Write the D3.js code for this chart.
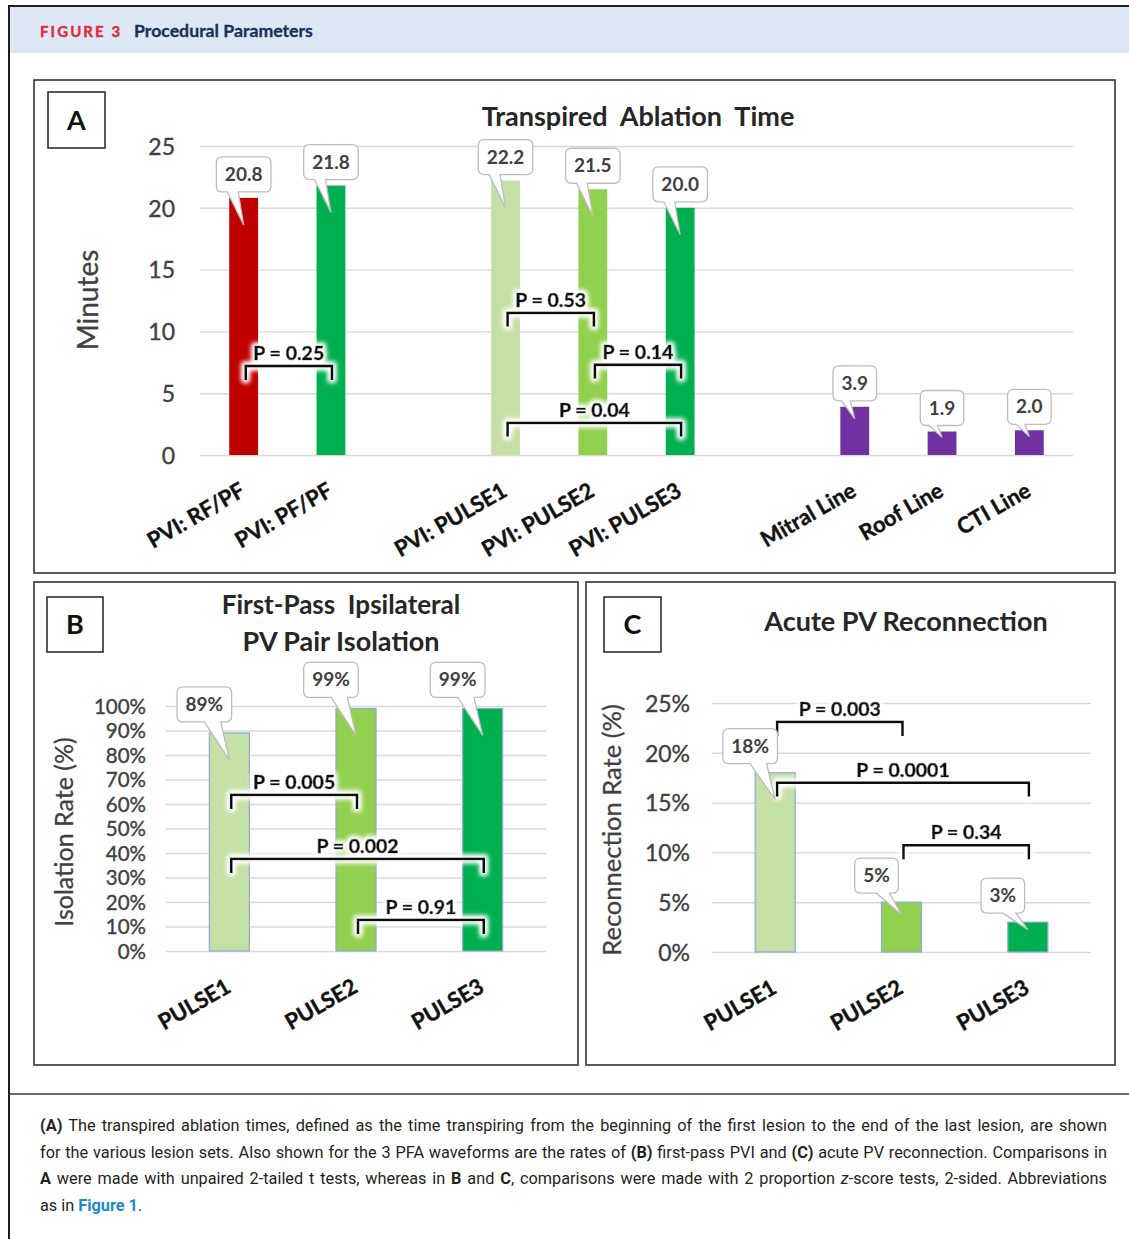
<!DOCTYPE html>
<html>
<head>
<meta charset="utf-8">
<script src="https://cdn.jsdelivr.net/npm/d3@7"></script>
<style>
  body { margin: 0; background: #fff; }
  svg { display: block; }
</style>
</head>
<body>
<svg id="fig" width="1129" height="1239"></svg>
<script>
// ---------- data ----------
const timeGroups = [
  ["PVI: RF/PF", "PVI: PF/PF"],
  ["PVI: PULSE1", "PVI: PULSE2", "PVI: PULSE3"],
  ["Mitral Line", "Roof Line", "CTI Line"]
];
const timeMinutes = [20.8, 21.8, 22.2, 21.5, 20.0, 3.9, 1.9, 2.0];
const timeTicks = [0, 5, 10, 15, 20, 25];
// [from, to, label, bracket level in minutes]
const timeComparisons = [
  ["PVI: RF/PF", "PVI: PF/PF", "P = 0.25", 7.2],
  ["PVI: PULSE1", "PVI: PULSE2", "P = 0.53", 11.5],
  ["PVI: PULSE2", "PVI: PULSE3", "P = 0.14", 7.3],
  ["PVI: PULSE1", "PVI: PULSE3", "P = 0.04", 2.6]
];

const waveforms = ["PULSE1", "PULSE2", "PULSE3"];
const isolationRate = [0.89, 0.99, 0.99];
const isolationTicks = [0, 0.1, 0.2, 0.3, 0.4, 0.5, 0.6, 0.7, 0.8, 0.9, 1.0];
const isolationComparisons = [
  ["PULSE1", "PULSE2", "P = 0.005", 0.637],
  ["PULSE1", "PULSE3", "P = 0.002", 0.376],
  ["PULSE2", "PULSE3", "P = 0.91", 0.127]
];

const reconnectionRate = [0.18, 0.05, 0.03];
const reconnectionTicks = [0, 0.05, 0.10, 0.15, 0.20, 0.25];
const reconnectionComparisons = [
  ["PULSE1", "PULSE2", "P = 0.003", 0.231],
  ["PULSE1", "PULSE3", "P = 0.0001", 0.170],
  ["PULSE2", "PULSE3", "P = 0.34", 0.107]
];

// ---------- drawing ----------
const FONT = "Lato, 'Open Sans', sans-serif";
const svg = d3.select("#fig");

const defs = svg.append("defs");
const glow = defs.append("filter").attr("id", "glow")
  .attr("x", "-20%").attr("y", "-60%").attr("width", "140%").attr("height", "220%");
glow.append("feMorphology").attr("in", "SourceAlpha").attr("operator", "dilate").attr("radius", 2).attr("result", "d");
glow.append("feGaussianBlur").attr("in", "d").attr("stdDeviation", 2.5).attr("result", "b");
glow.append("feFlood").attr("flood-color", "#fff").attr("result", "f");
glow.append("feComposite").attr("in", "f").attr("in2", "b").attr("operator", "in").attr("result", "g");
const gm = glow.append("feMerge");
gm.append("feMergeNode").attr("in", "g");
gm.append("feMergeNode").attr("in", "g");
gm.append("feMergeNode").attr("in", "SourceGraphic");

// figure header band and frame
svg.append("rect").attr("x", 9).attr("y", 7).attr("width", 1120).attr("height", 46).attr("fill", "#dde8f5");
svg.append("path").attr("d", "M9,1239V6H1129").attr("fill", "none").attr("stroke", "#1e1e1e").attr("stroke-width", 2);
svg.append("line").attr("x1", 9).attr("x2", 1129).attr("y1", 1094).attr("y2", 1094)
  .attr("stroke", "#3a3a3a").attr("stroke-width", 1.5);

svg.append("text").attr("x", 40).attr("y", 37).attr("font-family", FONT).attr("font-weight", 700)
  .attr("fill", "#e0283e").attr("font-size", 15).attr("letter-spacing", 2.1)
  .attr("stroke", "#e0283e").attr("stroke-width", 0.4).text("FIGURE 3");
svg.append("text").attr("x", 134).attr("y", 37).attr("font-family", FONT).attr("font-weight", 700)
  .attr("fill", "#17305a").attr("font-size", 17.7).attr("stroke", "#17305a").attr("stroke-width", 0.3)
  .text("Procedural Parameters");

function calloutPath(x0, y0, x1, y1, r, tb0, tb1, tx, ty) {
  return `M${x0 + r},${y0}H${x1 - r}Q${x1},${y0} ${x1},${y0 + r}V${y1 - r}Q${x1},${y1} ${x1 - r},${y1}` +
    `H${tb1}L${tx},${ty}L${tb0},${y1}H${x0 + r}Q${x0},${y1} ${x0},${y1 - r}V${y0 + r}Q${x0},${y0} ${x0 + r},${y0}Z`;
}

function drawPanel(o) {
  const g = svg.append("g");
  g.append("rect").attr("x", o.frame[0]).attr("y", o.frame[1]).attr("width", o.frame[2]).attr("height", o.frame[3])
    .attr("fill", "#fff").attr("stroke", "#333").attr("stroke-width", 1.6);
  g.append("rect").attr("x", o.letterBox[0]).attr("y", o.letterBox[1]).attr("width", o.letterBox[2]).attr("height", o.letterBox[3])
    .attr("fill", "#fff").attr("stroke", "#222").attr("stroke-width", 1.5);
  g.append("text").attr("x", o.letterBox[0] + o.letterBox[2] / 2).attr("y", o.letterBox[1] + o.letterBox[3] / 2 + 9.5)
    .attr("text-anchor", "middle").attr("font-family", FONT).attr("font-weight", 700).attr("font-size", 27)
    .attr("fill", "#111").text(o.letter);

  o.titles.forEach(t => {
    g.append("text").attr("x", t[1]).attr("y", t[2]).attr("text-anchor", "middle")
      .attr("font-family", FONT).attr("font-weight", 700).attr("font-size", t[3])
      .attr("fill", "#262626").style("white-space", "pre").text(t[0]);
  });

  const x = d3.scaleBand().domain(o.slots).range([o.left, o.right])
    .paddingInner(o.pad).paddingOuter(o.pad / 2);
  const y = d3.scaleLinear().domain(o.yDomain).range([o.bottom, o.top]);
  const cx = c => x(c) + x.bandwidth() / 2;

  // gridlines and value ticks
  const ga = g.append("g").attr("transform", `translate(${o.left},0)`)
    .call(d3.axisLeft(y).tickValues(o.ticks).tickFormat(o.tickFormat)
      .tickSize(-(o.right - o.left)).tickPadding(o.tickPad));
  ga.select(".domain").remove();
  ga.selectAll(".tick line").attr("stroke", "#d9d9d9").attr("stroke-width", 1.4);
  ga.selectAll(".tick text").attr("font-family", FONT).attr("font-size", o.tickFont)
    .attr("fill", "#404040").attr("stroke", "#404040").attr("stroke-width", 0.35).attr("dy", "0.36em");

  // category labels
  const gx = g.append("g").attr("transform", `translate(0,${o.bottom})`)
    .call(d3.axisBottom(x).tickValues(o.categories).tickSize(0));
  gx.select(".domain").remove();
  gx.selectAll(".tick text").attr("y", null).attr("dy", null)
    .attr("text-anchor", "end").attr("transform", "translate(3,40) rotate(-30)")
    .attr("font-family", FONT).attr("font-weight", 700).attr("font-size", o.catFont)
    .attr("fill", "#111").attr("stroke", "#111").attr("stroke-width", 0.4);

  // axis title
  g.append("text").attr("transform", `translate(${o.yLabel[1]},${o.yLabel[2]}) rotate(-90)`)
    .attr("text-anchor", "middle").attr("dy", "0.35em").attr("font-family", FONT)
    .attr("font-size", o.yLabelFont).attr("fill", "#404040").attr("stroke", "#404040").attr("stroke-width", 0.3)
    .text(o.yLabel[0]);

  const rows = o.categories.map((c, i) => ({ c, v: o.values[i] }));

  // bars
  g.selectAll("rect.bar").data(rows).join("rect").attr("class", "bar")
    .attr("x", d => x(d.c)).attr("width", x.bandwidth())
    .attr("y", d => y(d.v)).attr("height", d => y(0) - y(d.v))
    .attr("fill", d => o.colors[d.c])
    .attr("stroke", d => o.barStroke || "none").attr("stroke-width", 1.2);

  // comparison brackets
  const br = g.append("g").attr("filter", "url(#glow)");
  o.comparisons.forEach(cmp => {
    const xa = cx(cmp[0]) + 2, xb = cx(cmp[1]) + 1, yb = y(cmp[3]);
    br.append("path").attr("d", `M${xa},${yb + 14}V${yb}H${xb}V${yb + 14}`)
      .attr("fill", "none").attr("stroke", "#111").attr("stroke-width", 2.8);
    br.append("text").attr("x", (xa + xb) / 2).attr("y", yb - 6).attr("text-anchor", "middle")
      .attr("font-family", FONT).attr("font-weight", 700).attr("font-size", 19.5)
      .attr("fill", "#111").attr("stroke", "#111").attr("stroke-width", 0.7)
      .text(cmp[2]);
  });

  // value callouts
  rows.forEach(d => {
    const bx = cx(d.c), top = y(d.v), h = y(0) - top;
    const label = o.valueFormat(d.v);
    const cg = g.append("g");
    const t = cg.append("text").attr("font-family", FONT).attr("font-weight", 700).attr("font-size", 19)
      .attr("fill", "#404040").attr("text-anchor", "middle").text(label);
    const w = t.node().getComputedTextLength() + 17;
    const bh = 35;
    const mid = bx + o.callout.dx;
    const x0 = mid - w / 2, x1 = mid + w / 2;
    const y1 = top - o.callout.gap, y0 = y1 - bh;
    const tipY = top + Math.min(27, h * 0.25);
    const tb0 = x0 + w * o.callout.base[0], tb1 = x0 + w * o.callout.base[1];
    cg.insert("path", "text").attr("d", calloutPath(x0, y0, x1, y1, 6, tb0, tb1, bx, tipY))
      .attr("fill", "#fff").attr("stroke", "#bdbdbd").attr("stroke-width", 1.3);
    t.attr("x", mid).attr("y", y0 + bh / 2 + 6.5);
  });
}

const timeCategories = timeGroups.flat();
const timeSlots = timeGroups.flatMap((grp, i) => i < timeGroups.length - 1 ? [...grp, "gap" + i] : grp);

drawPanel({
  frame: [34, 80, 1081, 493], letterBox: [48, 92, 57, 56], letter: "A",
  titles: [["Transpired  Ablation  Time", 638, 126, 27]],
  slots: timeSlots, categories: timeCategories, values: timeMinutes,
  left: 200, right: 1073, top: 146, bottom: 455, pad: 0.67,
  yDomain: [0, 25], ticks: timeTicks, tickFormat: d3.format("d"), tickPad: 25, tickFont: 23,
  catFont: 22, yLabel: ["Minutes", 88, 300], yLabelFont: 28,
  colors: {
    "PVI: RF/PF": "#c00000", "PVI: PF/PF": "#00b050",
    "PVI: PULSE1": "#c5e0a5", "PVI: PULSE2": "#92d050", "PVI: PULSE3": "#00b050",
    "Mitral Line": "#7030a0", "Roof Line": "#7030a0", "CTI Line": "#7030a0"
  },
  comparisons: timeComparisons, valueFormat: d3.format(".1f"),
  callout: { dx: 0, gap: 6, base: [0.2, 0.4] }
});

drawPanel({
  frame: [34, 582, 544, 483], letterBox: [47, 597, 56, 55], letter: "B",
  titles: [["First-Pass  Ipsilateral", 341, 614, 26], ["PV Pair Isolation", 341, 651, 27]],
  slots: waveforms, categories: waveforms, values: isolationRate,
  left: 166, right: 546, top: 706, bottom: 951, pad: 0.684,
  yDomain: [0, 1], ticks: isolationTicks, tickFormat: d3.format(".0%"), tickPad: 20, tickFont: 20.5,
  catFont: 22, yLabel: ["Isolation Rate (%)", 64, 832], yLabelFont: 25,
  colors: { PULSE1: "#c5e0a5", PULSE2: "#92d050", PULSE3: "#00b050" }, barStroke: "#8eaadb",
  comparisons: isolationComparisons, valueFormat: d3.format(".0%"),
  callout: { dx: -25, gap: 11, base: [0.5, 0.8] }
});

drawPanel({
  frame: [586, 582, 529, 483], letterBox: [604, 597, 57, 55], letter: "C",
  titles: [["Acute PV Reconnection", 906, 631, 27]],
  slots: waveforms, categories: waveforms, values: reconnectionRate,
  left: 712, right: 1091, top: 703, bottom: 952, pad: 0.683,
  yDomain: [0, 0.25], ticks: reconnectionTicks, tickFormat: d3.format(".0%"), tickPad: 22, tickFont: 23,
  catFont: 22, yLabel: ["Reconnection Rate (%)", 612, 830], yLabelFont: 25.5,
  colors: { PULSE1: "#c5e0a5", PULSE2: "#92d050", PULSE3: "#00b050" }, barStroke: "#8eaadb",
  comparisons: reconnectionComparisons, valueFormat: d3.format(".0%"),
  callout: { dx: -25, gap: 9, base: [0.5, 0.8] }
});

// ---------- caption ----------
const captionLines = [
  [["(A)", "b"], [" The transpired ablation times, defined as the time transpiring from the beginning of the first lesion to the end of the last lesion, are shown"]],
  [["for the various lesion sets. Also shown for the 3 PFA waveforms are the rates of "], ["(B)", "b"], [" first-pass PVI and "], ["(C)", "b"], [" acute PV reconnection. Comparisons in"]],
  [["A", "b"], [" were made with unpaired 2-tailed t tests, whereas in "], ["B", "b"], [" and "], ["C", "b"], [", comparisons were made with 2 proportion "], ["z", "i"], ["-score tests, 2-sided. Abbreviations"]],
  [["as in "], ["Figure 1", "link"], ["."]]
];
captionLines.forEach((line, i) => {
  const t = svg.append("text").attr("x", 40).attr("y", 1131 + i * 26.6)
    .attr("font-family", "Roboto, 'Noto Sans', sans-serif").attr("font-size", 16.3).attr("fill", "#231f20")
    .style("white-space", "pre");
  line.forEach(seg => {
    const s = t.append("tspan").text(seg[0]);
    if (seg[1] === "b") s.attr("font-weight", 700);
    if (seg[1] === "i") s.attr("font-style", "italic");
    if (seg[1] === "link") s.attr("font-weight", 700).attr("fill", "#1d8ac4");
  });
  const natural = t.node().getComputedTextLength();
  // justify full lines by distributing the leftover width over the spaces
  if (i < captionLines.length - 1) {
    const gaps = line.reduce((n, seg) => n + (seg[0].match(/ /g) || []).length, 0);
    t.attr("word-spacing", ((1067 - natural) / gaps).toFixed(3));
  }
});
</script>
</body>
</html>
